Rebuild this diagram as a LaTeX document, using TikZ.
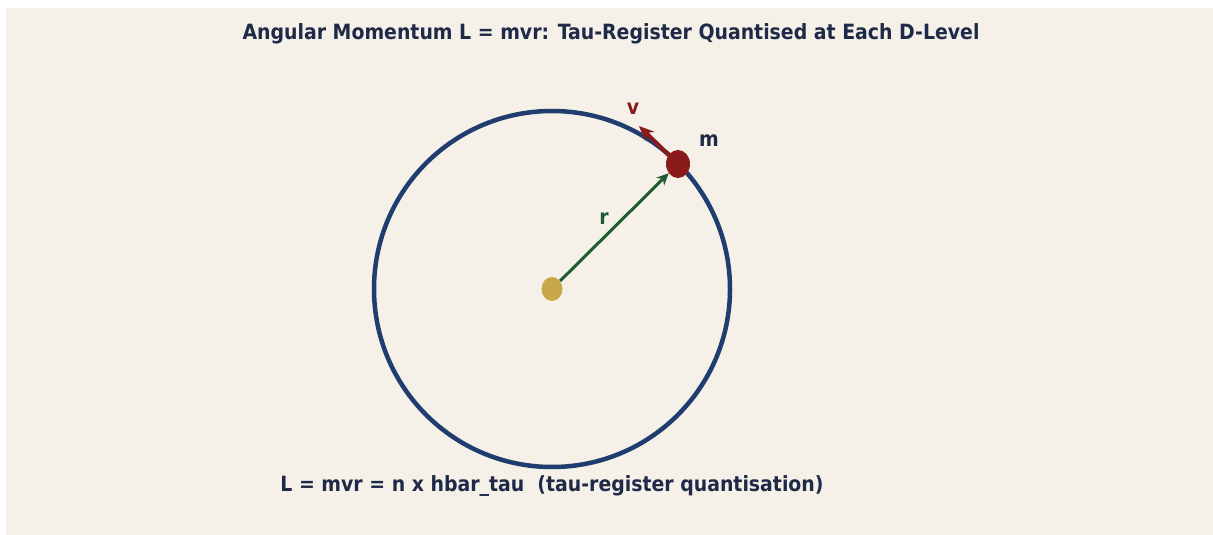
\documentclass[tikz,border=0pt]{standalone}
\usepackage{fontspec}
\setmainfont{DejaVu Sans Condensed}
\usetikzlibrary{shapes.geometric,arrows.meta}
\definecolor{paper}{HTML}{F5F0E8}
\definecolor{ink}{HTML}{1F2A48}
\definecolor{orbit}{HTML}{1F3D6E}
\definecolor{massred}{HTML}{8B1A1A}
\definecolor{radgreen}{HTML}{1E5C30}
\definecolor{hubgold}{HTML}{C9A84C}

\begin{document}
\begin{tikzpicture}[x=1pt,y=1pt,>={Stealth[length=12pt,width=11pt]},
    lbl/.style={font=\bfseries\fontsize{21}{25}\selectfont}]
  \useasboundingbox (0,0) rectangle (1213,535);
  \fill[paper] (6,0) rectangle (1213,527);
  \node[lbl,text=ink] (title) at (611,501) {Angular Momentum L = mvr: Tau-Register Quantised at Each D-Level};
  \draw[orbit,line width=4.5pt] (552,246) circle (178);
  \node[ellipse,fill=hubgold,inner sep=0,minimum width=21,minimum height=24] (hub) at (552,246) {};
  \node[ellipse,fill=massred,inner sep=0,minimum width=24,minimum height=28] (mass) at (678,371) {};
  \coordinate (vtip) at (639,409);
  \draw[->,radgreen,line width=3pt] (hub) -- (mass);
  \draw[-{Stealth[length=15pt,width=13pt]},massred,line width=4pt] (mass.center) -- (vtip);
  \node[lbl,text=massred] (vlbl) at (633,426) {v};
  \node[lbl,text=ink] (mlbl) at (709,394) {m};
  \node[lbl,text=radgreen] (rlbl) at (604,316) {r};
  \node[lbl,text=ink] (law) at (552,49) {L = mvr = n x hbar\_tau \ (tau-register quantisation)};
\end{tikzpicture}
\end{document}
